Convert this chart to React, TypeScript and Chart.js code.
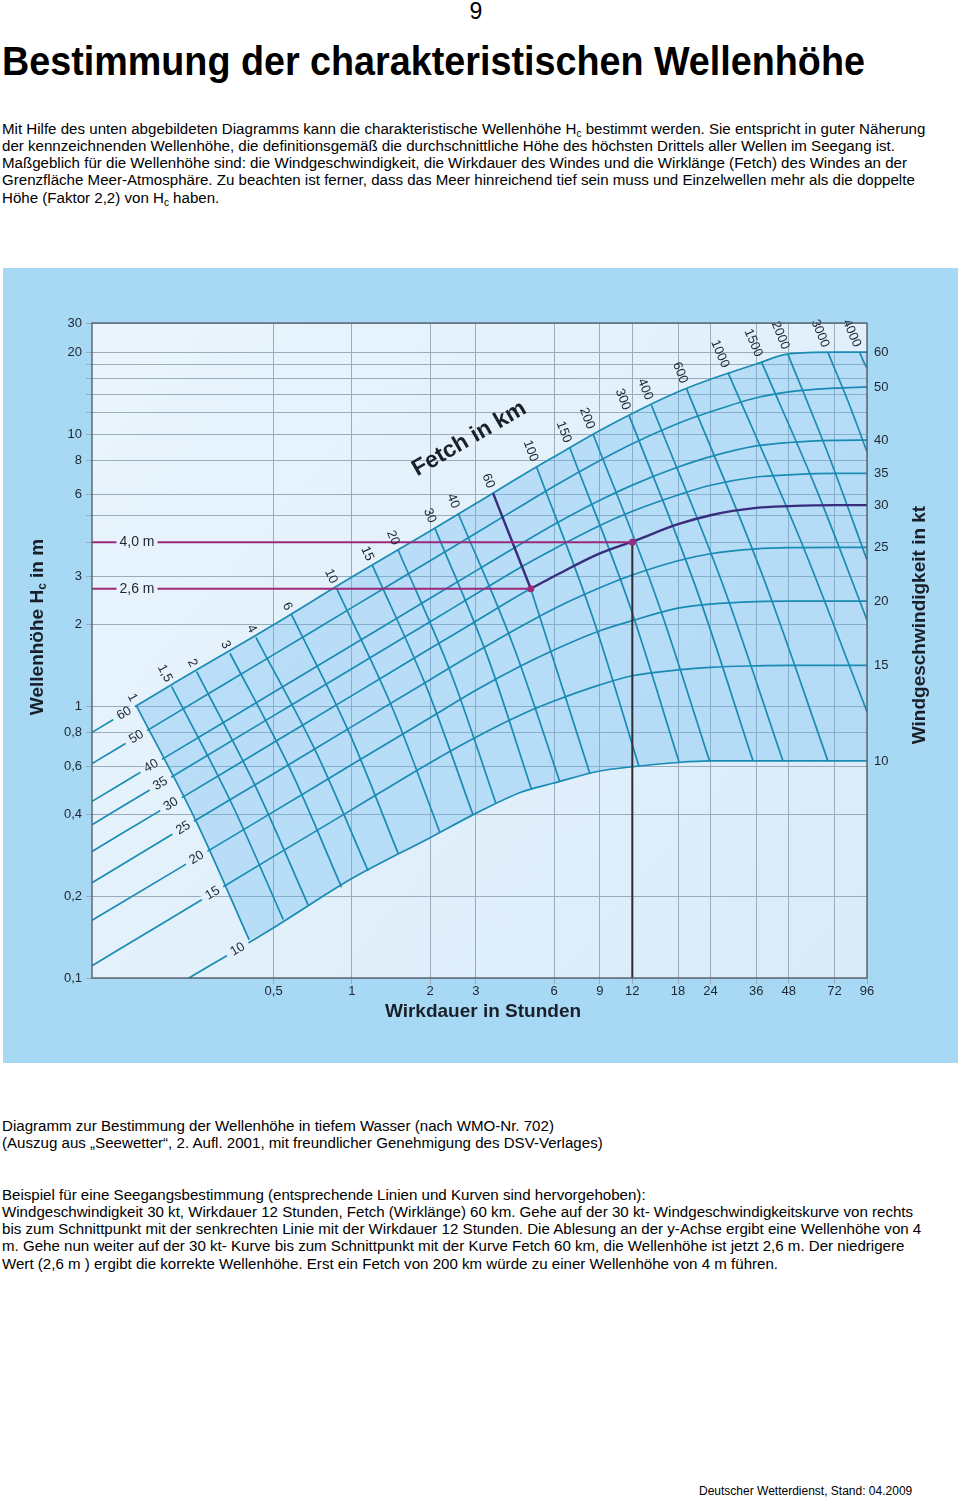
import React, { useEffect, useRef } from "react";
import { Chart, registerables } from "chart.js";

Chart.register(...registerables);

// ---------------- Data ----------------
// Durations (hours) at which the wind-speed curves are read
const durations = [0.1, 0.2, 0.5, 1, 2, 3, 4.5, 6, 9, 12, 18, 24, 36, 48, 72, 96];

// Wind speed curves (kt): characteristic wave height Hc (m) at the durations above
const windSpeedsKt = [10, 15, 20, 25, 30, 35, 40, 50, 60];
const hc10kt = [0.061, 0.091, 0.153, 0.232, 0.328, 0.403, 0.483, 0.521, 0.577, 0.598, 0.62, 0.628, 0.628, 0.628, 0.628, 0.628];
const hc15kt = [0.111, 0.165, 0.28, 0.416, 0.619, 0.768, 0.931, 1.043, 1.196, 1.292, 1.357, 1.388, 1.405, 1.41, 1.41, 1.41];
const hc20kt = [0.163, 0.242, 0.409, 0.609, 0.906, 1.143, 1.409, 1.607, 1.89, 2.06, 2.29, 2.37, 2.42, 2.43, 2.43, 2.43];
const hc25kt = [0.224, 0.334, 0.564, 0.84, 1.25, 1.576, 1.968, 2.28, 2.72, 3.03, 3.42, 3.63, 3.78, 3.82, 3.83, 3.83];
const hc30kt = [0.292, 0.434, 0.734, 1.092, 1.626, 2.05, 2.587, 3.0, 3.64, 4.02, 4.66, 5.03, 5.35, 5.43, 5.48, 5.48];
const hc35kt = [0.366, 0.545, 0.922, 1.372, 2.04, 2.58, 3.252, 3.78, 4.61, 5.2, 5.97, 6.48, 6.95, 7.08, 7.17, 7.17];
const hc40kt = [0.446, 0.664, 1.123, 1.672, 2.49, 3.14, 3.961, 4.65, 5.71, 6.49, 7.56, 8.26, 9.04, 9.31, 9.48, 9.5];
const hc50kt = [0.614, 0.914, 1.545, 2.3, 3.42, 4.32, 5.451, 6.43, 7.99, 9.21, 10.94, 12.07, 13.6, 14.3, 14.75, 14.9];
const hc60kt = [0.8, 1.19, 1.99, 2.98, 4.4, 5.55, 7.026, 8.25, 10.3, 11.9, 14.3, 15.9, 18.1, 19.7, 20.0, 20.0];
const windHeights = [hc10kt, hc15kt, hc20kt, hc25kt, hc30kt, hc35kt, hc40kt, hc50kt, hc60kt];

// Fetch lines (km): start on the 60 kt curve, pass a middle point, end on the 10 kt curve / right edge
const fetchKm = [1, 1.5, 2, 3, 4, 6, 10, 15, 20, 30, 40, 60, 100, 150, 200, 300, 400, 600, 1000, 1500, 2000, 3000, 4000];
const fetchLabels = ["1", "1,5", "2", "3", "4", "6", "10", "15", "20", "30", "40", "60", "100", "150", "200", "300", "400", "600", "1000", "1500", "2000", "3000", "4000"];
const fetchTopDur = [0.1485, 0.2026, 0.2527, 0.3395, 0.4274, 0.5863, 0.8733, 1.201, 1.507, 2.085, 2.564, 3.496, 5.133, 6.895, 8.472, 11.65, 14.21, 19.38, 28.02, 37.66, 47.65, 67.9, 89.9];
const fetchTopHc = [1.0, 1.178, 1.337, 1.563, 1.789, 2.161, 2.708, 3.281, 3.746, 4.52, 5.114, 6.053, 7.583, 8.905, 10.0, 11.74, 12.79, 14.72, 16.81, 18.45, 19.63, 19.97, 20.0];
const fetchMidDur = [0.2534, 0.344, 0.4293, 0.582, 0.7347, 0.9824, 1.443, 1.96, 2.429, 3.346, 4.206, 4.88, 8.452, 11.7, 14.86, 21.1, 26.61, 37.93, 53.66, 61.66, 68.76, 81.36, 92.7];
const fetchMidHc = [0.3717, 0.44, 0.498, 0.58, 0.665, 0.788, 0.9667, 1.141, 1.29, 1.497, 1.641, 2.7, 2.115, 2.357, 2.497, 2.718, 2.835, 3.044, 4.001, 6.178, 8.218, 13.11, 18.66];
const fetchEndDur = [0.4027, 0.5442, 0.679, 0.9128, 1.155, 1.507, 2.18, 2.928, 3.58, 4.912, 6.31, 8.232, 12.74, 18.15, 23.82, 34.96, 45.6, 67.9, 96, 96, 96, 96, 96];
const fetchEndHc = [0.138, 0.1643, 0.1855, 0.2156, 0.2474, 0.2873, 0.343, 0.3975, 0.44, 0.494, 0.527, 0.5657, 0.598, 0.6241, 0.626, 0.6295, 0.628, 0.628, 0.953, 2.071, 3.442, 8.61, 17.44];

// Axes
const X_MIN = 0.1;
const X_MAX = 96;
const Y_MIN = 0.1;
const Y_MAX = 25.6;
const xTickValues = [0.5, 1, 2, 3, 6, 9, 12, 18, 24, 36, 48, 72, 96];
const xTickLabels = ["0,5", "1", "2", "3", "6", "9", "12", "18", "24", "36", "48", "72", "96"];
const yGridValues = [0.2, 0.4, 0.6, 0.8, 1, 2, 3, 4, 5, 6, 8, 10, 12, 14, 16, 18, 20];
const yTickValues = [0.1, 0.2, 0.4, 0.6, 0.8, 1, 2, 3, 6, 8, 10, 20];
const yTickLabels = ["0,1", "0,2", "0,4", "0,6", "0,8", "1", "2", "3", "6", "8", "10", "20"];
const yTopLabel = "30";

// Worked example (highlighted)
const exampleWindKt = 30;
const exampleFetchKmValue = 60;
const exampleDuration = 12;
const exampleDurationHc = 4.0;
const exampleFetchDur = 4.88;
const exampleFetchHc = 2.7;
const exampleDurationLabel = "4,0 m";
const exampleFetchLabel = "2,6 m";

// Title of the fetch family
const fetchTitle = "Fetch in km";
const fetchTitleDur = 2.83;
const fetchTitleHc = 9.6;

// ---------------- Styling ----------------
const FONT = '"Liberation Sans", Arial, Helvetica, sans-serif';
const INK = "#1d2630";
const TEAL = "#1a8bb3";
const PURPLE = "#382c7c";
const MAGENTA = "#9c2a7b";
const GRID = "#9aabbc";
const FRAME_BG = "#a7d8f4";

const mkLine = (data: any[], color: string, width: number, order: number) => ({
  data,
  borderColor: color,
  borderWidth: width,
  pointRadius: 0,
  pointHoverRadius: 0,
  fill: false,
  cubicInterpolationMode: "monotone",
  order,
});

function buildDatasets() {
  const ds: any[] = [];
  const n60 = windHeights.length - 1;
  const f1Top = { x: fetchTopDur[0], y: fetchTopHc[0] };
  const f1Mid = { x: fetchMidDur[0], y: fetchMidHc[0] };
  const f1End = { x: fetchEndDur[0], y: fetchEndHc[0] };
  const upper = durations.map((t, i) => ({ x: t, y: windHeights[n60][i] })).filter((p) => p.x > f1Top.x);
  const lower = durations.map((t, i) => ({ x: t, y: windHeights[0][i] })).filter((p) => p.x > f1End.x).reverse();
  ds.push({
    data: [f1End, f1Mid, f1Top, ...upper, ...lower],
    fill: "shape",
    backgroundColor: "rgba(95,180,238,0.32)",
    borderWidth: 0,
    pointRadius: 0,
    tension: 0,
    order: 100,
  });

  windSpeedsKt.forEach((kt, i) => {
    const data = durations.map((t, j) => ({ x: t, y: windHeights[i][j] }));
    if (kt === exampleWindKt) {
      const dot = { x: exampleFetchDur, y: exampleFetchHc };
      ds.push(mkLine([...data.filter((p) => p.x < exampleFetchDur), dot], TEAL, 1.7, 50));
      ds.push(mkLine([dot, ...data.filter((p) => p.x > exampleFetchDur)], PURPLE, 2.4, 10));
    } else {
      ds.push(mkLine(data, TEAL, 1.7, 50));
    }
  });

  fetchKm.forEach((km, i) => {
    const top = { x: fetchTopDur[i], y: fetchTopHc[i] };
    const mid = { x: fetchMidDur[i], y: fetchMidHc[i] };
    const end = { x: fetchEndDur[i], y: fetchEndHc[i] };
    if (km === exampleFetchKmValue) {
      ds.push(mkLine([top, mid], PURPLE, 2.4, 10));
      ds.push(mkLine([mid, end], TEAL, 1.7, 50));
    } else {
      ds.push(mkLine([top, mid, end], TEAL, 1.7, 50));
    }
  });

  ds.push(mkLine([{ x: X_MIN, y: exampleDurationHc }, { x: exampleDuration, y: exampleDurationHc }], MAGENTA, 2, 5));
  ds.push(mkLine([{ x: X_MIN, y: exampleFetchHc }, { x: exampleFetchDur, y: exampleFetchHc }], MAGENTA, 2, 5));
  ds.push(mkLine([{ x: exampleDuration, y: Y_MIN }, { x: exampleDuration, y: exampleDurationHc }], "#2e2e33", 2, 4));
  ds.push({
    data: [{ x: exampleDuration, y: exampleDurationHc }, { x: exampleFetchDur, y: exampleFetchHc }],
    showLine: false,
    pointRadius: 3.5,
    pointHoverRadius: 3.5,
    pointBackgroundColor: MAGENTA,
    pointBorderColor: MAGENTA,
    borderWidth: 0,
    order: 1,
  });
  return ds;
}

function intersect(p1: any, p2: any, p3: any, p4: any) {
  const d = (p2.x - p1.x) * (p4.y - p3.y) - (p2.y - p1.y) * (p4.x - p3.x);
  if (Math.abs(d) < 1e-9) return null;
  const t = ((p3.x - p1.x) * (p4.y - p3.y) - (p3.y - p1.y) * (p4.x - p3.x)) / d;
  const u = ((p3.x - p1.x) * (p2.y - p1.y) - (p3.y - p1.y) * (p2.x - p1.x)) / d;
  if (u < -0.05 || u > 1.05) return null;
  return { x: p1.x + t * (p2.x - p1.x), y: p1.y + t * (p2.y - p1.y) };
}

const nomogramPlugin = {
  id: "nomogram",
  beforeDraw(chart: any) {
    const { ctx, chartArea: a } = chart;
    const g = ctx.createLinearGradient(a.left, a.top, a.right, a.bottom);
    g.addColorStop(0, "#eaf5fd");
    g.addColorStop(1, "#d9ebf9");
    chart.$plotBg = g;
    ctx.save();
    ctx.fillStyle = g;
    ctx.fillRect(a.left, a.top, a.right - a.left, a.bottom - a.top);
    ctx.restore();
  },
  afterDatasetsDraw(chart: any) {
    const { ctx, chartArea: a } = chart;
    const xs = chart.scales.x;
    const ys = chart.scales.y;
    const P = (t: number, h: number) => ({ x: xs.getPixelForValue(t), y: ys.getPixelForValue(h) });
    const bg = chart.$plotBg;
    ctx.save();

    const gapText = (text: string, cx: number, cy: number, ang: number, gw: number, gh: number, font: string) => {
      const ux = Math.cos(ang), uy = Math.sin(ang);
      const vx = -uy, vy = ux;
      ctx.beginPath();
      ctx.moveTo(cx - (ux * gw) / 2 - (vx * gh) / 2, cy - (uy * gw) / 2 - (vy * gh) / 2);
      ctx.lineTo(cx + (ux * gw) / 2 - (vx * gh) / 2, cy + (uy * gw) / 2 - (vy * gh) / 2);
      ctx.lineTo(cx + (ux * gw) / 2 + (vx * gh) / 2, cy + (uy * gw) / 2 + (vy * gh) / 2);
      ctx.lineTo(cx - (ux * gw) / 2 + (vx * gh) / 2, cy - (uy * gw) / 2 + (vy * gh) / 2);
      ctx.closePath();
      ctx.fillStyle = bg;
      ctx.fill();
      ctx.save();
      ctx.translate(cx, cy);
      ctx.rotate(ang);
      ctx.font = font;
      ctx.fillStyle = INK;
      ctx.textAlign = "center";
      ctx.textBaseline = "middle";
      ctx.fillText(text, 0, 0);
      ctx.restore();
    };

    // wind speed labels where each curve meets the 1 km fetch line
    const f1 = [P(fetchTopDur[0], fetchTopHc[0]), P(fetchMidDur[0], fetchMidHc[0]), P(fetchEndDur[0], fetchEndHc[0])];
    windSpeedsKt.forEach((kt, i) => {
      const hs = windHeights[i];
      const p1 = P(durations[0], hs[0]);
      const p2 = P(durations[2], hs[2]);
      let ip: any = intersect(p1, p2, f1[0], f1[1]);
      if (!ip) ip = intersect(p1, p2, f1[1], f1[2]);
      if (!ip) return;
      const ang = Math.atan2(p2.y - p1.y, p2.x - p1.x);
      const cx = ip.x - Math.cos(ang) * 14.5;
      const cy = ip.y - Math.sin(ang) * 14.5;
      gapText(String(kt), cx, cy, ang, 25, 6, `13px ${FONT}`);
      // label at the right end
      const pe = P(durations[durations.length - 1], hs[hs.length - 1]);
      ctx.font = `13px ${FONT}`;
      ctx.fillStyle = INK;
      ctx.textAlign = "left";
      ctx.textBaseline = "middle";
      ctx.fillText(String(kt), a.right + 7, pe.y);
    });

    // fetch labels above the top curve
    fetchKm.forEach((km, i) => {
      const p0 = P(fetchTopDur[i], fetchTopHc[i]);
      const p1 = P(fetchMidDur[i], fetchMidHc[i]);
      const ang = Math.atan2(p1.y - p0.y, p1.x - p0.x);
      const ax = p0.x - Math.cos(ang) * 6;
      const ay = p0.y - Math.sin(ang) * 6;
      ctx.save();
      ctx.translate(ax, ay);
      ctx.rotate(ang);
      ctx.font = `13px ${FONT}`;
      ctx.fillStyle = INK;
      ctx.textAlign = "right";
      ctx.textBaseline = "middle";
      ctx.fillText(fetchLabels[i], 0, 0);
      ctx.restore();
    });

    // example labels on the magenta lines
    [
      [exampleDurationLabel, exampleDurationHc],
      [exampleFetchLabel, exampleFetchHc],
    ].forEach(([txt, h]: any) => {
      const y = ys.getPixelForValue(h);
      const cx = a.left + 45;
      ctx.font = `14px ${FONT}`;
      const w = ctx.measureText(txt).width;
      ctx.fillStyle = bg;
      ctx.fillRect(cx - w / 2 - 3, y - 3, w + 6, 6);
      ctx.fillStyle = INK;
      ctx.textAlign = "center";
      ctx.textBaseline = "middle";
      ctx.fillText(txt, cx, y);
    });

    // plot frame
    ctx.strokeStyle = "#56626d";
    ctx.lineWidth = 1.4;
    ctx.strokeRect(a.left, a.top, a.right - a.left, a.bottom - a.top);

    // "Fetch in km"
    const fp = P(fetchTitleDur, fetchTitleHc);
    ctx.save();
    ctx.translate(fp.x, fp.y);
    ctx.rotate((-30.2 * Math.PI) / 180);
    ctx.font = `bold 23px ${FONT}`;
    ctx.fillStyle = "#1a2029";
    ctx.textAlign = "center";
    ctx.textBaseline = "middle";
    ctx.fillText(fetchTitle, 0, 0);
    ctx.restore();
    ctx.restore();
  },
  afterDraw(chart: any) {
    const { ctx, chartArea: a } = chart;
    ctx.save();
    ctx.fillStyle = "#1a2029";
    ctx.textBaseline = "middle";
    // left title with subscript
    const big = `bold 19px ${FONT}`;
    const small = `bold 12px ${FONT}`;
    ctx.font = big;
    const w1 = ctx.measureText("Wellenhöhe H").width;
    const w3 = ctx.measureText(" in m").width;
    ctx.font = small;
    const w2 = ctx.measureText("c").width;
    const total = w1 + w2 + w3;
    ctx.save();
    ctx.translate(a.left - 54, a.top + 304);
    ctx.rotate(-Math.PI / 2);
    ctx.textAlign = "left";
    ctx.font = big;
    ctx.fillText("Wellenhöhe H", -total / 2, 0);
    ctx.font = small;
    ctx.fillText("c", -total / 2 + w1, 5);
    ctx.font = big;
    ctx.fillText(" in m", -total / 2 + w1 + w2, 0);
    ctx.restore();
    // right title
    ctx.save();
    ctx.translate(a.right + 53, a.top + 302);
    ctx.rotate(-Math.PI / 2);
    ctx.textAlign = "center";
    ctx.font = big;
    ctx.fillText("Windgeschwindigkeit in kt", 0, 0);
    ctx.restore();
    // bottom title
    ctx.textAlign = "center";
    ctx.font = big;
    ctx.fillText("Wirkdauer in Stunden", a.left + 391, a.bottom + 34);
    ctx.restore();
  },
};

function ChartCanvas() {
  const ref = useRef<HTMLCanvasElement>(null);
  useEffect(() => {
    if (!ref.current) return;
    const config: any = {
      type: "line",
      data: { datasets: buildDatasets() },
      options: {
        responsive: false,
        animation: false,
        events: [],
        layout: { padding: { left: 0, top: 55, right: 91, bottom: 0 } },
        plugins: { legend: { display: false }, tooltip: { enabled: false } },
        scales: {
          x: {
            type: "logarithmic",
            min: X_MIN,
            max: X_MAX,
            afterBuildTicks: (s: any) => {
              s.ticks = xTickValues.map((v) => ({ value: v }));
            },
            afterFit: (s: any) => {
              s.height = 85;
            },
            ticks: {
              autoSkip: false,
              maxRotation: 0,
              minRotation: 0,
              padding: 0,
              color: INK,
              font: { family: FONT, size: 13 },
              callback: (v: number) => {
                const i = xTickValues.indexOf(v);
                return i >= 0 ? xTickLabels[i] : "";
              },
            },
            grid: { color: GRID, lineWidth: 1, tickLength: 6 },
            border: { display: false },
          },
          y: {
            type: "logarithmic",
            min: Y_MIN,
            max: Y_MAX,
            afterBuildTicks: (s: any) => {
              s.ticks = [Y_MIN, ...yGridValues, Y_MAX].map((v) => ({ value: v }));
            },
            afterFit: (s: any) => {
              s.width = 89;
            },
            ticks: {
              autoSkip: false,
              padding: 4,
              color: INK,
              font: { family: FONT, size: 13 },
              callback: (v: number) => {
                if (v === Y_MAX) return yTopLabel;
                const i = yTickValues.indexOf(v);
                return i >= 0 ? yTickLabels[i] : "";
              },
            },
            grid: { color: GRID, lineWidth: 1, tickLength: 6 },
            border: { display: false },
          },
        },
      },
      plugins: [nomogramPlugin],
    };
    const chart = new Chart(ref.current, config);
    return () => chart.destroy();
  }, []);
  return <canvas ref={ref} width={955} height={795} style={{ display: "block", width: 955, height: 795 }} />;
}

const Sub = () => <span style={{ fontSize: 10, position: "relative", top: 3 }}>c</span>;

const lineStyle: any = { whiteSpace: "nowrap", height: 17.3, lineHeight: "17.3px" };
const BODY = 15.1;

export default function App() {
  return (
    <div
      style={{
        position: "absolute",
        left: 0,
        top: 0,
        width: 960,
        height: 1500,
        overflow: "hidden",
        background: "#fff",
        fontFamily: FONT,
        color: "#000",
      }}
    >
      <div style={{ position: "absolute", left: 0, width: 952, top: -1, textAlign: "center", fontSize: 23, lineHeight: "25px" }}>9</div>
      <div
        style={{
          position: "absolute",
          left: 2,
          top: 41,
          fontSize: 41,
          lineHeight: "41px",
          fontWeight: "bold",
          whiteSpace: "nowrap",
          transform: "scaleX(0.92)",
          transformOrigin: "0 0",
        }}
      >
        Bestimmung der charakteristischen Wellenhöhe
      </div>
      <div style={{ position: "absolute", left: 2, top: 119.5, fontSize: BODY }}>
        <div style={lineStyle}>
          Mit Hilfe des unten abgebildeten Diagramms kann die charakteristische Wellenhöhe H<Sub /> bestimmt werden. Sie entspricht in guter Näherung
        </div>
        <div style={lineStyle}>
          der kennzeichnenden Wellenhöhe, die definitionsgemäß die durchschnittliche Höhe des höchsten Drittels aller Wellen im Seegang ist.
        </div>
        <div style={lineStyle}>
          Maßgeblich für die Wellenhöhe sind: die Windgeschwindigkeit, die Wirkdauer des Windes und die Wirklänge (Fetch) des Windes an der
        </div>
        <div style={lineStyle}>
          Grenzfläche Meer-Atmosphäre. Zu beachten ist ferner, dass das Meer hinreichend tief sein muss und Einzelwellen mehr als die doppelte
        </div>
        <div style={lineStyle}>
          Höhe (Faktor 2,2) von H<Sub /> haben.
        </div>
      </div>
      <div style={{ position: "absolute", left: 3, top: 268, width: 955, height: 795, background: FRAME_BG }}>
        <ChartCanvas />
      </div>
      <div style={{ position: "absolute", left: 2, top: 1116.5, fontSize: BODY }}>
        <div style={lineStyle}>Diagramm zur Bestimmung der Wellenhöhe in tiefem Wasser (nach WMO-Nr. 702)</div>
        <div style={lineStyle}>(Auszug aus „Seewetter“, 2. Aufl. 2001, mit freundlicher Genehmigung des DSV-Verlages)</div>
      </div>
      <div style={{ position: "absolute", left: 2, top: 1185.5, fontSize: BODY }}>
        <div style={lineStyle}>Beispiel für eine Seegangsbestimmung (entsprechende Linien und Kurven sind hervorgehoben):</div>
        <div style={lineStyle}>
          Windgeschwindigkeit 30 kt, Wirkdauer 12 Stunden, Fetch (Wirklänge) 60 km. Gehe auf der 30 kt- Windgeschwindigkeitskurve von rechts
        </div>
        <div style={lineStyle}>
          bis zum Schnittpunkt mit der senkrechten Linie mit der Wirkdauer 12 Stunden. Die Ablesung an der y-Achse ergibt eine Wellenhöhe von 4
        </div>
        <div style={lineStyle}>
          m. Gehe nun weiter auf der 30 kt- Kurve bis zum Schnittpunkt mit der Kurve Fetch 60 km, die Wellenhöhe ist jetzt 2,6 m. Der niedrigere
        </div>
        <div style={lineStyle}>
          Wert (2,6 m ) ergibt die korrekte Wellenhöhe. Erst ein Fetch von 200 km würde zu einer Wellenhöhe von 4 m führen.
        </div>
      </div>
      <div style={{ position: "absolute", left: 699, top: 1483.5, fontSize: 12, lineHeight: "15px", whiteSpace: "nowrap" }}>
        Deutscher Wetterdienst, Stand: 04.2009
      </div>
    </div>
  );
}
